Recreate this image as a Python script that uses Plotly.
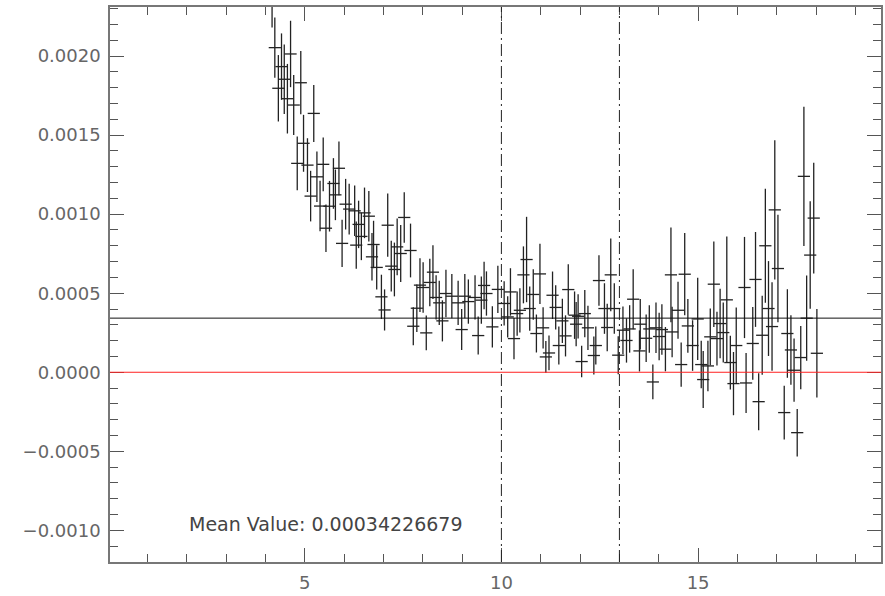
import plotly.graph_objects as go

# ---- data ----
x_vals = [4.17, 4.24, 4.33, 4.41, 4.48, 4.56, 4.64, 4.72, 4.81, 4.90,
          4.97, 5.07, 5.15, 5.23, 5.31, 5.39, 5.47, 5.54, 5.63, 5.73,
          5.78, 5.87, 5.95, 6.04, 6.13, 6.27, 6.31, 6.37, 6.44, 6.52,
          6.63, 6.71, 6.75, 6.83,
          6.95, 7.03, 7.11, 7.20, 7.28, 7.35, 7.44, 7.53, 7.69, 7.76,
          7.85, 7.93, 8.01, 8.09, 8.18, 8.26, 8.34, 8.42, 8.50, 8.59,
          8.74, 8.90, 8.99, 9.07, 9.16, 9.33, 9.41, 9.49, 9.56, 9.62,
          9.77, 9.91, 10.07, 10.16, 10.23, 10.32, 10.40, 10.47, 10.56, 10.64,
          10.72, 10.81, 10.89, 10.98, 11.06, 11.13, 11.21, 11.30, 11.38, 11.46,
          11.55, 11.63, 11.70, 11.86, 11.90, 11.95, 12.04, 12.12, 12.20, 12.35,
          12.40, 12.48,
          12.62, 12.69, 12.78, 12.87, 12.97, 13.09, 13.18, 13.26, 13.35, 13.51,
          13.53, 13.68, 13.76, 13.85, 13.93, 14.01, 14.08, 14.17, 14.31, 14.34,
          14.49, 14.57, 14.66, 14.74, 14.86, 14.99, 15.08, 15.13,
          15.25, 15.31, 15.40, 15.48, 15.56, 15.64, 15.73, 15.82, 15.90, 15.97,
          16.22, 16.18, 16.39, 16.46, 16.54, 16.63, 16.71, 16.79, 16.88, 16.95,
          17.03, 17.19, 17.27, 17.36, 17.44, 17.52, 17.61, 17.69, 17.76, 17.85,
          17.94, 18.02]

y_vals = [0.00238, 0.002053, 0.001796, 0.001933, 0.001853, 0.00173, 0.002013, 0.00169, 0.001321, 0.001831,
          0.001448, 0.00131, 0.001114, 0.001637, 0.001236, 0.001051, 0.001315, 0.000911, 0.00105, 0.001194,
          0.001122, 0.00129, 0.000815, 0.001063, 0.001032, 0.001021, 0.000804, 0.000935, 0.000859, 0.001008,
          0.000987, 0.00073, 0.000808, 0.000663,
          0.000477, 0.000394, 0.00093, 0.000671, 0.00065, 0.000793, 0.000751, 0.000979, 0.00077, 0.000291,
          0.000405, 0.000551, 0.000536, 0.000249, 0.000568, 0.000633, 0.000473, 0.000439, 0.000325, 0.000498,
          0.000481, 0.000439, 0.00027, 0.000481, 0.000447, 0.000473, 0.000232, 0.000456, 0.000549, 0.000498,
          0.000287, 0.000524, 0.000435, 0.00035, 0.000508, 0.000213, 0.000371, 0.000392, 0.000616, 0.000713,
          0.000403, 0.000492, 0.000245, 0.000622, 0.000281, 0.000097, 0.000122, 0.000487, 0.00041, 0.000169,
          0.000325, 0.00023, 0.000523, 0.000361, 0.000304, 0.000354, 0.0000677, 0.000371, 0.000281, 0.000106,
          0.000169, 0.00058,
          0.000403, 0.000283, 0.000616, 0.000403, 0.000108, 0.000266, 0.000201, 0.000274, 0.000462, 0.000135,
          0.000304, 0.000215, 0.000274, -0.0000614, 0.000281, 0.000226, 0.00027, 0.000146, 0.000616, 0.000255,
          0.000392, 0.0000487, 0.00062, 0.000293, 0.000169, 0.000337, 0.0000487, -0.0000462,
          0.00004, 0.000224, 0.000557, 0.000213, 0.000308, 0.000251, 0.000458, 0.0000614, -0.0000717, 0.000169,
          -0.0000677, 0.000536, 0.000182, 0.000587, -0.000186, 0.000234, 0.0008, 0.000403, 0.000289, 0.001027,
          0.000656, -0.000255, 0.000245, 0.000141, 0.0000127, -0.000382, 0.0000931, 0.001239, 0.000342, 0.000741,
          0.000975, 0.00012]

y_err = [0.0002, 0.00019, 0.00021, 0.00021, 0.00022, 0.00022, 0.00021, 0.00019, 0.00017, 0.0002,
         0.00018, 0.00017, 0.00016, 0.00018, 0.00016, 0.00016, 0.00017, 0.00015, 0.00016, 0.00016,
         0.00016, 0.00017, 0.00015, 0.00016, 0.00016, 0.00016, 0.00015, 0.00015, 0.00015, 0.00016,
         0.00016, 0.00015, 0.00015, 0.00014,
         0.00014, 0.00013, 0.0002, 0.00016, 0.00017, 0.00018, 0.00018, 0.00016, 0.00017, 0.00012,
         0.00015, 0.00017, 0.00016, 0.00011, 0.00015, 0.00017, 0.00014, 0.00014, 0.00013, 0.00015,
         0.00014, 0.00014, 0.00013, 0.00014, 0.00014, 0.00014, 0.00012, 0.00015, 0.00015, 0.00014,
         0.00013, 0.00015, 0.00014, 0.00013, 0.00015, 0.00013, 0.00014, 0.00014, 0.00018, 0.00027,
         0.00014, 0.00016, 0.00012, 0.00019, 0.00013, 0.0001, 0.00011, 0.00015, 0.00014, 0.00012,
         0.00014, 0.00013, 0.00016, 0.00015, 0.00014, 0.00014, 0.0001, 0.00015, 0.00014, 0.00012,
         0.00012, 0.00016,
         0.00016, 0.00015, 0.00023, 0.00016, 0.00012, 0.00015, 0.00014, 0.00015, 0.00019, 0.00013,
         0.00016, 0.00015, 0.00015, 0.00011, 0.00016, 0.00015, 0.00016, 0.00014, 0.0003, 0.00016,
         0.00018, 0.00014, 0.00026, 0.00017, 0.00016, 0.00026, 0.00015, 0.00018,
         0.00016, 0.00018, 0.00027, 0.00017, 0.00022, 0.00019, 0.0004, 0.00017, 0.0002, 0.00024,
         0.00019, 0.00032, 0.00023, 0.0003, 0.00018, 0.00025, 0.00036, 0.0003, 0.00028, 0.00044,
         0.00034, 0.00017, 0.00028, 0.00022, 0.0002, 0.00015, 0.0002, 0.00044, 0.00027, 0.00034,
         0.00035, 0.00028]

x_err = [0.155] * len(x_vals)

mean_value = 0.00034226679
mean_label = "Mean Value: 0.00034226679"
v_lines = [10, 13]
x_range = [0.05, 19.65]
y_range = [-0.0012, 0.00231]
y_ticks = [-0.0010, -0.0005, 0.0, 0.0005, 0.0010, 0.0015, 0.0020]
x_ticks = [5, 10, 15]

fig = go.Figure()

fig.add_trace(go.Scatter(
    x=x_vals, y=y_vals, mode="markers",
    marker=dict(size=0.1, color="#222"),
    error_y=dict(type="data", array=y_err, visible=True, color="#222", thickness=1.3, width=0),
    error_x=dict(type="data", array=x_err, visible=True, color="#222", thickness=1.3, width=0),
    showlegend=False, hoverinfo="skip",
))

# zero line (red) and mean line (black)
fig.add_shape(type="line", xref="paper", yref="y", x0=0, x1=1, y0=0, y1=0,
              line=dict(color="#ff2020", width=1))
fig.add_shape(type="line", xref="paper", yref="y", x0=0, x1=1, y0=mean_value, y1=mean_value,
              line=dict(color="#111", width=1))
for vx in v_lines:
    fig.add_shape(type="line", xref="x", yref="paper", x0=vx, x1=vx, y0=0, y1=1,
                  line=dict(color="#222", width=1, dash="12px,4px,2px,4px"))

fig.add_annotation(x=2.0, y=-0.00096, xref="x", yref="y", xanchor="left", yanchor="middle",
                   text=mean_label, showarrow=False,
                   font=dict(family="DejaVu Sans", size=19, color="#444"))

axis_common = dict(showgrid=False, zeroline=False, showline=True, linecolor="#777", linewidth=1.5,
                   mirror="allticks", ticks="inside", ticklen=14, tickcolor="#555", tickwidth=1,
                   tickfont=dict(family="DejaVu Sans", size=18, color="#666"))

fig.update_xaxes(range=x_range, tickvals=x_ticks, ticktext=[str(t) for t in x_ticks],
                 ticklabelstandoff=4,
                 minor=dict(dtick=1, ticks="inside", ticklen=8, tickcolor="#555", showgrid=False),
                 **axis_common)
fig.update_yaxes(range=y_range, tickvals=y_ticks, tickformat=".4f",
                 ticklabelstandoff=4,
                 minor=dict(dtick=0.0001, tick0=0, ticks="inside", ticklen=8, tickcolor="#555", showgrid=False),
                 **axis_common)

fig.update_layout(width=885, height=596, margin=dict(l=110, r=2, t=7, b=34),
                  plot_bgcolor="white", paper_bgcolor="white")

fig.write_html("out.html", config={"displayModeBar": False},
               post_script="document.body.style.margin='0';")
